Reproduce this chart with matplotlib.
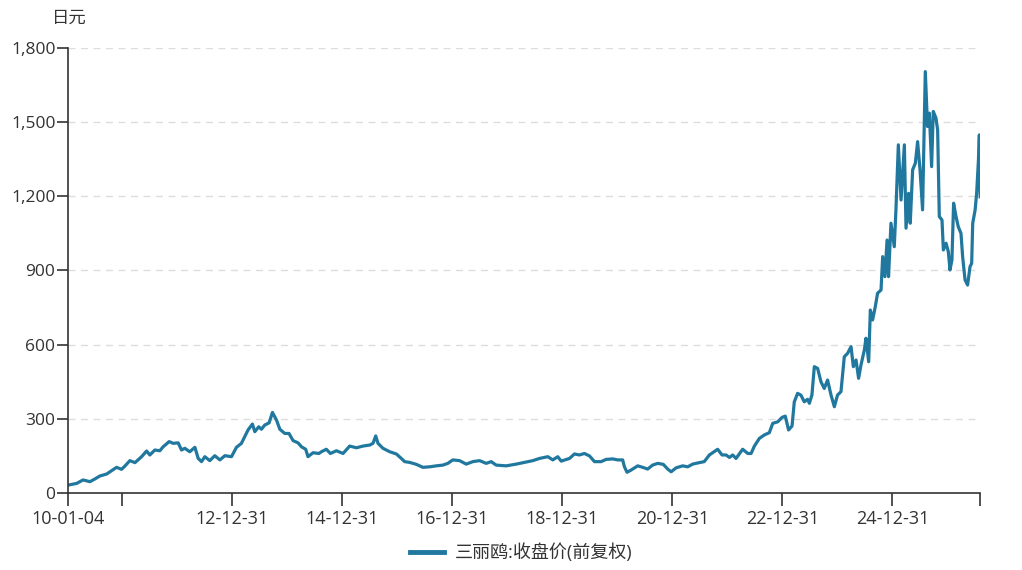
import pandas as pd
import matplotlib
matplotlib.use('Agg')
import matplotlib.pyplot as plt

plt.rcParams['font.family'] = ['Open Sans', 'Noto Sans CJK SC', 'DejaVu Sans']

# closing prices (forward adjusted)
dates = [
    '2010-01-04', '2010-03-03', '2010-04-14', '2010-05-30', '2010-07-02', '2010-08-04', '2010-09-18',
    '2010-11-23', '2010-12-26', '2011-01-17', '2011-02-19', '2011-03-25', '2011-05-08', '2011-06-10',
    '2011-07-02', '2011-08-04', '2011-09-06', '2011-09-28', '2011-11-07', '2011-12-04', '2012-01-06',
    '2012-01-28', '2012-02-19', '2012-03-23', '2012-04-26', '2012-05-18', '2012-06-09', '2012-07-01',
    '2012-08-03', '2012-09-05', '2012-10-09', '2012-11-11', '2012-12-25', '2013-01-27', '2013-03-01',
    '2013-03-23', '2013-04-14', '2013-05-13', '2013-05-29', '2013-06-24', '2013-07-12', '2013-08-03',
    '2013-09-01', '2013-09-23', '2013-10-20', '2013-11-11', '2013-12-14', '2014-01-11', '2014-02-07',
    '2014-03-12', '2014-04-04', '2014-05-02', '2014-05-17', '2014-06-20', '2014-07-29', '2014-08-14',
    '2014-09-16', '2014-10-13', '2014-11-22', '2015-01-05', '2015-02-18', '2015-04-04', '2015-05-17',
    '2015-07-01', '2015-07-23', '2015-08-10', '2015-08-25', '2015-09-27', '2015-11-11', '2015-12-25',
    '2016-01-27', '2016-02-18', '2016-03-22', '2016-05-06', '2016-06-18', '2016-08-02', '2016-09-15',
    '2016-10-29', '2016-12-01', '2017-01-03', '2017-02-17', '2017-04-02', '2017-05-16', '2017-06-30',
    '2017-08-13', '2017-09-15', '2017-10-18', '2017-12-24', '2018-02-28', '2018-04-24', '2018-06-18',
    '2018-08-02', '2018-09-26', '2018-10-29', '2018-12-01', '2018-12-24', '2019-02-17', '2019-03-22',
    '2019-04-24', '2019-05-27', '2019-06-30', '2019-08-02', '2019-09-15', '2019-10-18', '2019-12-01',
    '2020-01-03', '2020-02-05', '2020-02-17', '2020-03-05', '2020-04-01', '2020-05-15', '2020-06-17',
    '2020-07-20', '2020-08-22', '2020-09-25', '2020-11-01', '2020-11-30', '2020-12-23', '2021-01-25',
    '2021-03-10', '2021-04-12', '2021-05-15', '2021-06-28', '2021-07-31', '2021-09-03', '2021-09-29',
    '2021-10-28', '2021-11-26', '2021-12-23', '2022-01-14', '2022-02-05', '2022-02-27', '2022-04-12',
    '2022-05-16', '2022-06-07', '2022-06-29', '2022-08-01', '2022-09-03', '2022-10-06', '2022-10-29',
    '2022-12-01', '2022-12-30', '2023-01-20', '2023-02-11', '2023-03-06', '2023-03-21', '2023-04-12',
    '2023-05-04', '2023-05-26', '2023-06-17', '2023-06-29', '2023-07-16', '2023-08-01', '2023-08-23',
    '2023-09-14', '2023-10-06', '2023-10-28', '2023-11-20', '2023-12-12', '2024-01-02', '2024-01-25',
    '2024-02-16', '2024-03-09', '2024-04-01', '2024-04-16', '2024-05-04', '2024-05-21', '2024-06-06',
    '2024-06-28', '2024-07-09', '2024-07-27', '2024-08-07', '2024-08-22', '2024-09-09', '2024-09-24',
    '2024-10-17', '2024-10-28', '2024-11-12', '2024-11-26', '2024-12-06', '2024-12-22', '2025-01-13',
    '2025-01-24', '2025-02-09', '2025-02-27', '2025-03-21', '2025-04-01', '2025-04-18', '2025-04-29',
    '2025-05-15', '2025-06-02', '2025-06-17', '2025-07-03', '2025-07-20', '2025-08-07', '2025-08-22',
    '2025-09-03', '2025-09-18', '2025-09-29', '2025-10-17', '2025-10-28', '2025-11-08', '2025-11-26',
    '2025-12-05', '2025-12-23', '2026-01-07', '2026-01-18', '2026-01-31', '2026-02-11', '2026-02-27',
    '2026-03-14', '2026-04-01', '2026-04-12', '2026-04-28', '2026-05-15', '2026-05-31', '2026-06-11',
    '2026-06-18', '2026-07-04', '2026-07-14', '2026-07-26', '2026-08-01', '2026-08-06',
]
close = [
    32, 39, 53, 46, 57, 69, 77,
    104, 96, 109, 131, 123, 147, 170,
    154, 174, 171, 187, 208, 201, 203,
    174, 181, 167, 185, 140, 127, 147,
    131, 151, 134, 151, 147, 185, 201,
    228, 255, 279, 248, 268, 258, 275,
    284, 326, 295, 258, 241, 241, 212,
    203, 187, 177, 147, 163, 160, 167,
    177, 160, 171, 160, 190, 183, 190,
    194, 201, 231, 201, 181, 167, 158,
    140, 127, 124, 116, 104, 106, 110,
    113, 120, 134, 131, 117, 127, 131,
    120, 127, 113, 110, 117, 124, 131,
    140, 147, 134, 147, 129, 140, 158,
    154, 160, 150, 127, 127, 136, 138,
    134, 134, 106, 84, 93, 110, 104,
    97, 113, 120, 116, 97, 86, 102,
    110, 106, 117, 123, 127, 154, 165,
    177, 154, 154, 144, 154, 140, 177,
    160, 160, 190, 221, 235, 244, 282,
    288, 306, 311, 255, 271, 369, 403,
    396, 369, 379, 363, 396, 511, 504,
    450, 423, 457, 396, 349, 396, 410,
    551, 565, 592, 511, 538, 464, 518,
    578, 626, 531, 740, 700, 754, 808,
    821, 956, 875, 1023, 875, 1091, 996,
    1145, 1408, 1185, 1408, 1071, 1212, 1091,
    1307, 1334, 1421, 1307, 1145, 1704, 1482,
    1536, 1320, 1543, 1516, 1468, 1118, 1104,
    983, 1010, 976, 902, 943, 1172, 1118,
    1077, 1050, 956, 862, 841, 915, 929,
    1091, 1145, 1212, 1347, 1448, 1198,
]
series_name = '三丽鸥:收盘价(前复权)'
unit_label = '日元'
tick_dates = ['2010-01-04', '2010-12-31', '2012-12-31', '2014-12-31', '2016-12-31',
              '2018-12-31', '2020-12-31', '2022-12-31', '2024-12-31', '2026-08-06']
tick_labels = ['10-01-04', '', '12-12-31', '14-12-31', '16-12-31',
               '18-12-31', '20-12-31', '22-12-31', '24-12-31', '']
y_ticks = [0, 300, 600, 900, 1200, 1500, 1800]

x = pd.to_datetime(dates)
line_color = '#21789f'
text_color = '#333333'

fig = plt.figure(figsize=(10.22, 5.70), dpi=100)
ax = fig.add_axes([0.0665, 0.135, 0.8925, 0.781])
ax.plot(x, close, color=line_color, linewidth=2.3, label=series_name)

ax.set_xlim(x[0], x[-1])
ax.set_ylim(0, 1800)
ax.set_xticks(pd.to_datetime(tick_dates))
ax.set_xticklabels(tick_labels)
ax.set_yticks(y_ticks)
ax.set_yticklabels([f'{v:,}' for v in y_ticks])

for s in ['top', 'right']:
    ax.spines[s].set_visible(False)
for s in ['left', 'bottom']:
    ax.spines[s].set_color(text_color)
    ax.spines[s].set_linewidth(1.2)
ax.tick_params(axis='x', length=9, width=1.2, color=text_color, labelsize=13,
               labelcolor=text_color, pad=3)
ax.tick_params(axis='y', length=8, width=1.2, color=text_color, labelsize=12.5,
               labelcolor=text_color, pad=1)

for v in y_ticks[1:]:
    ax.axhline(v, color='#dddddd', linestyle=(0, (5, 4)), linewidth=1.0, zorder=0)

fig.text(69 / 1022, 1 - 19 / 570, unit_label, ha='center', va='center',
         fontsize=12.5, color=text_color)

leg = fig.legend(loc='center', bbox_to_anchor=(0.51, 1 - 553 / 570), frameon=False,
                 fontsize=13, handlelength=1.9, handletextpad=0.6)
for h in leg.get_lines():
    h.set_linewidth(3.5)
for t in leg.get_texts():
    t.set_color(text_color)

fig.savefig('out.png', dpi=100)
